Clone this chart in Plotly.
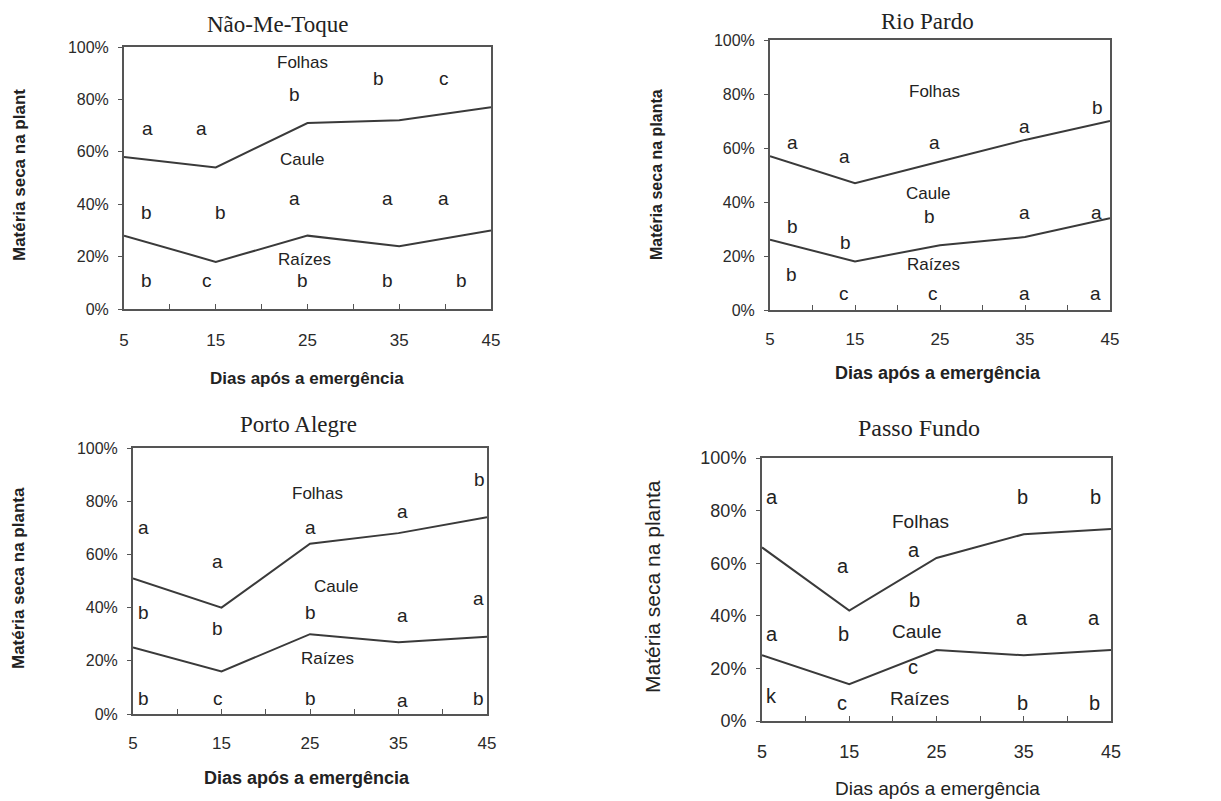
import plotly.graph_objects as go

W, H = 1221, 801

# ---------------- data ----------------
days = [5, 15, 25, 35, 45]
x_tick_labels = ["5", "15", "25", "35", "45"]
y_tick_vals = [0, 20, 40, 60, 80, 100]
y_tick_labels = ["0%", "20%", "40%", "60%", "80%", "100%"]

site_titles = ["Não-Me-Toque", "Rio Pardo", "Porto Alegre", "Passo Fundo"]

# share of dry matter (%) per organ; leaves = remainder up to 100 %
nmt_raizes = [28, 18, 28, 24, 30]
nmt_caule = [30, 36, 43, 48, 47]

rp_raizes = [26, 18, 24, 27, 34]
rp_caule = [31, 29, 31, 36, 36]

pa_raizes = [25, 16, 30, 27, 29]
pa_caule = [26, 24, 34, 41, 45]

pf_raizes = [25, 14, 27, 25, 27]
pf_caule = [41, 28, 35, 46, 46]

# significance letters (day, %, letter)
nmt_letters = [
    (7.6, 69, "a"), (13.5, 69, "a"), (23.6, 82, "b"), (32.7, 88, "b"), (39.9, 88, "c"),
    (7.4, 37, "b"), (15.5, 37, "b"), (23.6, 42, "a"), (33.7, 42, "a"), (39.8, 42, "a"),
    (7.4, 11, "b"), (14.0, 11, "c"), (24.4, 11, "b"), (33.7, 11, "b"), (41.8, 11, "b"),
]
rp_letters = [
    (7.6, 62, "a"), (13.8, 57, "a"), (24.3, 62, "a"), (34.9, 68, "a"), (43.5, 75, "b"),
    (7.6, 31, "b"), (13.9, 25, "b"), (23.8, 34.5, "b"), (34.9, 36, "a"), (43.4, 36, "a"),
    (7.5, 13, "b"), (13.7, 6, "c"), (24.2, 6, "c"), (34.9, 6, "a"), (43.3, 6, "a"),
]
pa_letters = [
    (6.2, 70, "a"), (14.6, 57.5, "a"), (25.1, 70, "a"), (35.5, 76, "a"), (44.1, 88, "b"),
    (6.2, 38, "b"), (14.6, 32, "b"), (25.1, 38, "b"), (35.5, 37, "a"), (44.0, 43.5, "a"),
    (6.2, 6, "b"), (14.6, 6, "c"), (25.1, 6, "b"), (35.5, 5, "a"), (44.0, 6, "b"),
]
pf_letters = [
    (6.1, 85, "a"), (14.3, 59, "a"), (22.4, 65, "a"), (34.9, 85, "b"), (43.2, 85, "b"),
    (6.1, 33, "a"), (14.3, 33, "b"), (22.5, 46, "b"), (34.8, 39, "a"), (43.1, 39, "a"),
    (6.1, 9.5, "k"), (14.2, 7, "c"), (22.3, 20.5, "c"), (34.9, 7, "b"), (43.1, 7, "b"),
]

# organ labels (day, %, text)
nmt_regions = [(24.4, 94, "Folhas"), (24.4, 57, "Caule"), (24.7, 19, "Raízes")]
rp_regions = [(24.3, 81, "Folhas"), (23.6, 43, "Caule"), (24.2, 17, "Raízes")]
pa_regions = [(25.8, 83, "Folhas"), (27.9, 48, "Caule"), (27.0, 21, "Raízes")]
pf_regions = [(23.2, 76, "Folhas"), (22.8, 34, "Caule"), (23.1, 8.4, "Raízes")]

y_titles = ["Matéria seca na plant", "Matéria seca na planta",
            "Matéria seca na planta", "Matéria seca na planta"]
x_title = "Dias após a emergência"

# ---------------- layout geometry (pixels) ----------------
# plot box: left, right, top, bottom
boxes = [(124, 491, 47, 309), (770, 1110, 40, 310), (133, 487, 448, 714), (762, 1111, 458, 721)]
title_pos = [(277, 25, 23), (927, 22, 23), (298, 425, 23), (919, 428, 24)]
xtitle_pos = [(307, 378, 17, "bold"), (938, 373, 18, "bold"), (307, 778, 18, "bold"), (937, 788, 19, "normal")]
ytitle_pos = [(20, 175, 17, "bold"), (657, 175, 16, "bold"), (18, 578, 17, "bold"), (652, 587, 21, "normal")]
ytick_size = [16, 16, 16, 18]
xtick_size = [17, 17, 17, 18]
letter_size = [19, 19, 19, 20]
region_size = [17, 17, 17, 19]
xlab_standoff = [15, 13, 13, 13]

SANS = "Liberation Sans, Arial, sans-serif"
SERIF = "Liberation Serif, Times New Roman, serif"
LINE = "#3a3a3a"
AXIS = "#555555"
TXT = "#222222"

raizes = [nmt_raizes, rp_raizes, pa_raizes, pf_raizes]
caules = [nmt_caule, rp_caule, pa_caule, pf_caule]
letters = [nmt_letters, rp_letters, pa_letters, pf_letters]
regions = [nmt_regions, rp_regions, pa_regions, pf_regions]

fig = go.Figure()
annotations = []
layout = dict(
    width=W, height=H,
    margin=dict(l=0, r=0, t=0, b=0, autoexpand=False),
    paper_bgcolor="white", plot_bgcolor="white",
    showlegend=False,
)

for i in range(4):
    n = "" if i == 0 else str(i + 1)
    xa, ya = "x" + n, "y" + n
    l, r, t, b = boxes[i]
    fig.add_trace(go.Scatter(
        x=days, y=raizes[i], mode="lines", stackgroup="s%d" % i,
        line=dict(color=LINE, width=2), fillcolor="rgba(0,0,0,0)",
        xaxis=xa, yaxis=ya, hoverinfo="skip", name="Raízes"))
    fig.add_trace(go.Scatter(
        x=days, y=caules[i], mode="lines", stackgroup="s%d" % i,
        line=dict(color=LINE, width=2), fillcolor="rgba(0,0,0,0)",
        xaxis=xa, yaxis=ya, hoverinfo="skip", name="Caule"))

    layout["xaxis" + n] = dict(
        domain=[l / W, r / W], anchor=ya, range=[5, 45], automargin=False,
        tickvals=days, ticktext=x_tick_labels, ticks="inside", ticklen=5,
        tickcolor=AXIS, ticklabelstandoff=xlab_standoff[i],
        minor=dict(dtick=5, tick0=5, ticks="inside", ticklen=5, tickcolor=AXIS),
        showgrid=False, zeroline=False, showline=True, mirror=True,
        linecolor=AXIS, linewidth=2,
        tickfont=dict(family=SANS, size=xtick_size[i], color="#2a2a2a"),
    )
    layout["yaxis" + n] = dict(
        domain=[1 - b / H, 1 - t / H], anchor=xa, range=[0, 100], automargin=False,
        tickvals=y_tick_vals, ticktext=y_tick_labels, ticks="outside", ticklen=4,
        tickcolor=AXIS, ticklabelstandoff=6,
        showgrid=False, zeroline=False, showline=True, mirror=True,
        linecolor=AXIS, linewidth=2,
        tickfont=dict(family=SANS, size=ytick_size[i], color="#2a2a2a"),
    )

    for (dx, dy, txt) in letters[i]:
        annotations.append(dict(
            x=dx, y=dy, xref=xa, yref=ya, text=txt, showarrow=False,
            font=dict(family=SANS, size=letter_size[i], color=TXT)))
    for (dx, dy, txt) in regions[i]:
        annotations.append(dict(
            x=dx, y=dy, xref=xa, yref=ya, text=txt, showarrow=False,
            font=dict(family=SANS, size=region_size[i], color=TXT)))

    tx, ty, ts = title_pos[i]
    annotations.append(dict(
        x=tx / W, y=1 - ty / H, xref="paper", yref="paper", text=site_titles[i],
        showarrow=False, xanchor="center", yanchor="middle",
        font=dict(family=SERIF, size=ts, color=TXT)))
    xx, xy, xs, xw = xtitle_pos[i]
    annotations.append(dict(
        x=xx / W, y=1 - xy / H, xref="paper", yref="paper", text=x_title,
        showarrow=False, xanchor="center", yanchor="middle",
        font=dict(family=SANS, size=xs, color=TXT, weight=xw)))
    yx, yy, ys, yw = ytitle_pos[i]
    annotations.append(dict(
        x=yx / W, y=1 - yy / H, xref="paper", yref="paper", text=y_titles[i],
        showarrow=False, xanchor="center", yanchor="middle", textangle=-90,
        font=dict(family=SANS, size=ys, color=TXT, weight=yw)))

layout["annotations"] = annotations
fig.update_layout(**layout)
fig.write_html("out.html", config={"displayModeBar": False},
               post_script="document.body.style.margin='0';document.body.style.overflow='hidden';")
